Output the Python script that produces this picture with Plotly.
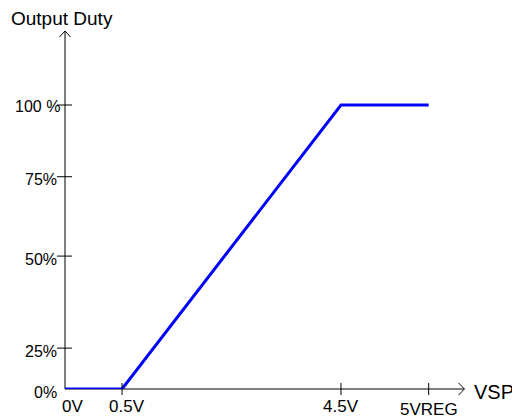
import plotly.graph_objects as go

# ---- data (schematic positions) ----
vsp_pos = [0, 0.93, 4.5, 5.93]          # schematic x positions of the curve points
duty = [0, 0, 100, 100]                 # output duty %

x_tick_pos = [0, 0.93, 4.5, 5.93]
x_tick_text = ["0V", "0.5V", "4.5V", "5VREG"]

y_tick_pos = [0, 14.4, 46.8, 74.75, 100]
y_tick_text = ["0%", "25%", "50%", "75%", "100 %"]

# ---- layout geometry (page has an 8px body margin) ----
OFF = 8
W, H = 520 - OFF, 420 - OFF
X0S, Y0S = 65, 389          # screen pixel of the origin
XENDS, YTOPS = 464, 31      # screen pixel of axis ends
L = X0S - OFF
T = YTOPS - OFF
R = W - (XENDS - OFF)
B = H - (Y0S - OFF)
PW, PH = XENDS - X0S, Y0S - YTOPS
XMAX = 6.506
YMAX = 126.06


def px(xp):
    return (xp - X0S) / PW


def py(yp):
    return (Y0S - yp) / PH


FONT = "Liberation Sans, Arial, sans-serif"

fig = go.Figure()
fig.add_trace(go.Scatter(
    x=vsp_pos, y=duty, mode="lines",
    line=dict(color="#0000ff", width=3),
    hoverinfo="skip", showlegend=False,
))

shapes = []
# axes
shapes.append(dict(type="line", xref="paper", yref="paper", x0=0, y0=0, x1=1, y1=0,
                   line=dict(color="black", width=1), layer="below"))
shapes.append(dict(type="line", xref="paper", yref="paper", x0=0, y0=0, x1=0, y1=1,
                   line=dict(color="black", width=1), layer="below"))
# arrow heads (open chevrons)
shapes.append(dict(type="path", xref="paper", yref="paper",
                   path=f"M {px(458.5)} {py(383)} L {px(464.5)} {py(389)} L {px(458.5)} {py(395)}",
                   line=dict(color="black", width=1)))
shapes.append(dict(type="path", xref="paper", yref="paper",
                   path=f"M {px(59.5)} {py(37)} L {px(65)} {py(31)} L {px(70.5)} {py(37)}",
                   line=dict(color="black", width=1)))
# x ticks (crossing axis)
for i, xv in enumerate(x_tick_pos):
    if i == 0:
        continue
    shapes.append(dict(type="line", xref="x", yref="paper", x0=xv, x1=xv,
                       y0=py(395), y1=py(383), line=dict(color="black", width=1)))
# y ticks (crossing axis)
for i, yv in enumerate(y_tick_pos):
    if i == 0:
        continue
    shapes.append(dict(type="line", xref="paper", yref="y", x0=px(57), x1=px(72),
                       y0=yv, y1=yv, line=dict(color="black", width=1)))

annotations = []
x_shift = [7.5, 5, 0, 0]
x_yshift = [-17, -17, -17, -20]
for xv, t, xs, ys in zip(x_tick_pos, x_tick_text, x_shift, x_yshift):
    annotations.append(dict(x=xv, y=0, xref="x", yref="paper", text=t, showarrow=False,
                            xanchor="center", yanchor="middle", xshift=xs, yshift=ys,
                            font=dict(family=FONT, size=17, color="black")))
y_xshift = [-6, -6, -6, -6, -3]
y_yshift = [-3, -3, -3, -3, -1.5]
for yv, t, xs, ys in zip(y_tick_pos, y_tick_text, y_xshift, y_yshift):
    annotations.append(dict(x=0, y=yv, xref="paper", yref="y", text=t, showarrow=False,
                            xanchor="right", yanchor="middle", xshift=xs, yshift=ys,
                            font=dict(family=FONT, size=16, color="black")))

annotations.append(dict(x=px(9), y=py(19), xref="paper", yref="paper", text="Output Duty",
                        showarrow=False, xanchor="left", yanchor="middle",
                        font=dict(family=FONT, size=19, color="black")))
annotations.append(dict(x=px(472), y=py(392), xref="paper", yref="paper", text="VSP",
                        showarrow=False, xanchor="left", yanchor="middle",
                        font=dict(family=FONT, size=20, color="black")))

fig.update_layout(
    width=W, height=H,
    margin=dict(l=L, r=R, t=T, b=B, pad=0),
    paper_bgcolor="white", plot_bgcolor="white",
    xaxis=dict(range=[0, XMAX], visible=False, fixedrange=True),
    yaxis=dict(range=[0, YMAX], visible=False, fixedrange=True),
    shapes=shapes, annotations=annotations,
    showlegend=False,
)

fig.write_html("out.html")
